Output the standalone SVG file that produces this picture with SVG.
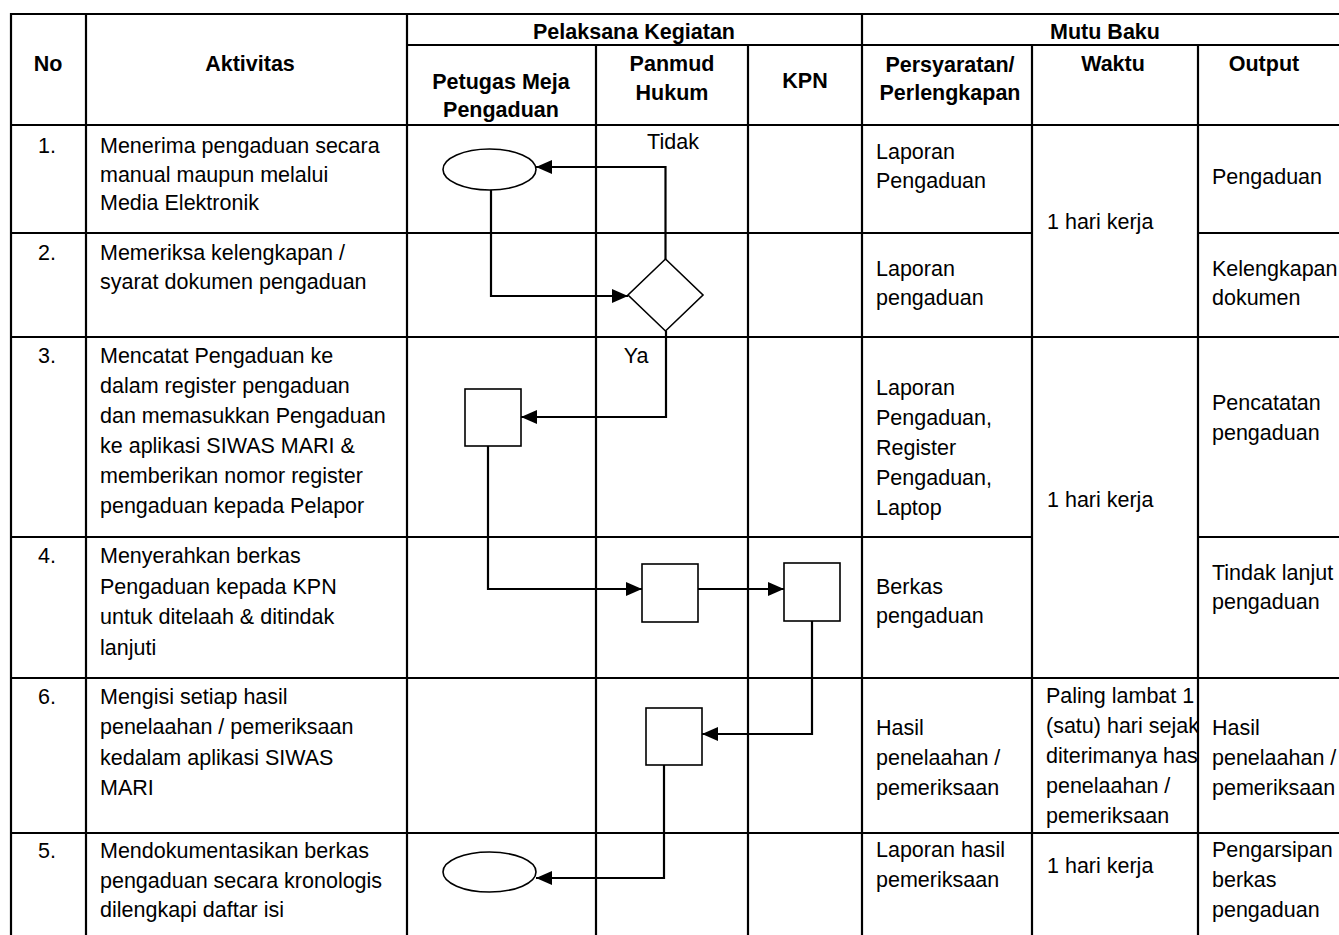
<svg xmlns="http://www.w3.org/2000/svg" width="1339" height="935" viewBox="0 0 1339 935">
<style>
text{font-family:"Liberation Sans",Arial,sans-serif;font-size:21.5px;fill:#000}
.b{font-weight:bold}
.m{text-anchor:middle}
.grid line{stroke:#000;stroke-width:2.2}
.shape{fill:#fff;stroke:#000;stroke-width:1.6}
.conn path{fill:none;stroke:#000;stroke-width:2.2}
</style>
<defs>
<marker id="arr" markerUnits="userSpaceOnUse" markerWidth="17" markerHeight="15" refX="16" refY="7" orient="auto">
<path d="M0,0 L16,7 L0,14 z" fill="#000"/>
</marker>
<clipPath id="cw"><rect x="1033" y="679" width="164" height="153"/></clipPath>
</defs>
<rect width="1339" height="935" fill="#fff"/>
<g id="grid" class="grid">
<line x1="11" y1="14" x2="1348" y2="14"/>
<line x1="11" y1="13" x2="11" y2="935"/>
<line x1="86" y1="14" x2="86" y2="935"/>
<line x1="407" y1="14" x2="407" y2="935"/>
<line x1="862" y1="14" x2="862" y2="935"/>
<line x1="596" y1="45" x2="596" y2="935"/>
<line x1="748" y1="45" x2="748" y2="935"/>
<line x1="1032" y1="45" x2="1032" y2="935"/>
<line x1="1198" y1="45" x2="1198" y2="935"/>
<line x1="407" y1="45" x2="1348" y2="45"/>
<line x1="11" y1="125" x2="1348" y2="125"/>
<line x1="11" y1="233" x2="1032" y2="233"/>
<line x1="1198" y1="233" x2="1348" y2="233"/>
<line x1="11" y1="337" x2="1348" y2="337"/>
<line x1="11" y1="537" x2="1032" y2="537"/>
<line x1="1198" y1="537" x2="1348" y2="537"/>
<line x1="11" y1="678" x2="1348" y2="678"/>
<line x1="11" y1="833" x2="1348" y2="833"/>
</g>
<g id="header">
<text class="b m" x="48" y="71">No</text>
<text class="b m" x="250" y="71">Aktivitas</text>
<text class="b m" x="634" y="39">Pelaksana Kegiatan</text>
<text class="b m" x="1105" y="39">Mutu Baku</text>
<text class="b m" x="501" y="89">Petugas Meja</text>
<text class="b m" x="501" y="117">Pengaduan</text>
<text class="b m" x="672" y="71">Panmud</text>
<text class="b m" x="672" y="100">Hukum</text>
<text class="b m" x="805" y="88">KPN</text>
<text class="b m" x="950" y="72">Persyaratan/</text>
<text class="b m" x="950" y="100">Perlengkapan</text>
<text class="b m" x="1113" y="71">Waktu</text>
<text class="b m" x="1264" y="71">Output</text>
</g>
<g id="row1">
<text class="m" x="47" y="153">1.</text>
<text x="100" y="153">Menerima pengaduan secara</text>
<text x="100" y="182">manual maupun melalui</text>
<text x="100" y="210">Media Elektronik</text>
<text x="876" y="159">Laporan</text>
<text x="876" y="188">Pengaduan</text>
<text x="1047" y="229">1 hari kerja</text>
<text x="1212" y="184">Pengaduan</text>
</g>
<g id="row2">
<text class="m" x="47" y="260">2.</text>
<text x="100" y="260">Memeriksa kelengkapan /</text>
<text x="100" y="289">syarat dokumen pengaduan</text>
<text x="876" y="276">Laporan</text>
<text x="876" y="305">pengaduan</text>
<text x="1212" y="276">Kelengkapan</text>
<text x="1212" y="305">dokumen</text>
</g>
<g id="row3">
<text class="m" x="47" y="363">3.</text>
<text x="100" y="363">Mencatat Pengaduan ke</text>
<text x="100" y="393">dalam register pengaduan</text>
<text x="100" y="423">dan memasukkan Pengaduan</text>
<text x="100" y="453">ke aplikasi SIWAS MARI &amp;</text>
<text x="100" y="483">memberikan nomor register</text>
<text x="100" y="513">pengaduan kepada Pelapor</text>
<text x="876" y="395">Laporan</text>
<text x="876" y="425">Pengaduan,</text>
<text x="876" y="455">Register</text>
<text x="876" y="485">Pengaduan,</text>
<text x="876" y="515">Laptop</text>
<text x="1047" y="507">1 hari kerja</text>
<text x="1212" y="410">Pencatatan</text>
<text x="1212" y="440">pengaduan</text>
</g>
<g id="row4">
<text class="m" x="47" y="563">4.</text>
<text x="100" y="563">Menyerahkan berkas</text>
<text x="100" y="594">Pengaduan kepada KPN</text>
<text x="100" y="624">untuk ditelaah &amp; ditindak</text>
<text x="100" y="655">lanjuti</text>
<text x="876" y="594">Berkas</text>
<text x="876" y="623">pengaduan</text>
<text x="1212" y="580">Tindak lanjut</text>
<text x="1212" y="609">pengaduan</text>
</g>
<g id="row6">
<text class="m" x="47" y="704">6.</text>
<text x="100" y="704">Mengisi setiap hasil</text>
<text x="100" y="734">penelaahan / pemeriksaan</text>
<text x="100" y="765">kedalam aplikasi SIWAS</text>
<text x="100" y="795">MARI</text>
<text x="876" y="735">Hasil</text>
<text x="876" y="765">penelaahan /</text>
<text x="876" y="795">pemeriksaan</text>
<g clip-path="url(#cw)">
<text x="1046" y="703">Paling lambat 1</text>
<text x="1046" y="733">(satu) hari sejak</text>
<text x="1046" y="763">diterimanya hasil</text>
<text x="1046" y="793">penelaahan /</text>
<text x="1046" y="823">pemeriksaan</text>
</g>
<text x="1212" y="735">Hasil</text>
<text x="1212" y="765">penelaahan /</text>
<text x="1212" y="795">pemeriksaan</text>
</g>
<g id="row5">
<text class="m" x="47" y="858">5.</text>
<text x="100" y="858">Mendokumentasikan berkas</text>
<text x="100" y="888">pengaduan secara kronologis</text>
<text x="100" y="917">dilengkapi daftar isi</text>
<text x="876" y="857">Laporan hasil</text>
<text x="876" y="887">pemeriksaan</text>
<text x="1047" y="873">1 hari kerja</text>
<text x="1212" y="857">Pengarsipan</text>
<text x="1212" y="887">berkas</text>
<text x="1212" y="917">pengaduan</text>
</g>
<g id="connectors" class="conn">
<path d="M665.5,259 V167 H536" marker-end="url(#arr)"/>
<path d="M491,190 V296 H628" marker-end="url(#arr)"/>
<path d="M666,331 V417 H521" marker-end="url(#arr)"/>
<path d="M488,446 V589 H642" marker-end="url(#arr)"/>
<path d="M698,589 H784" marker-end="url(#arr)"/>
<path d="M812,621 V734 H702" marker-end="url(#arr)"/>
<path d="M664,765 V878 H536" marker-end="url(#arr)"/>
</g>
<g id="label-tidak"><text class="m" x="673" y="149">Tidak</text></g>
<g id="label-ya"><text class="m" x="636" y="363">Ya</text></g>
<g id="start1"><ellipse class="shape" cx="489.5" cy="169.5" rx="46.5" ry="20.5"/></g>
<g id="decision"><polygon class="shape" points="665.5,259 703,295 665.5,331 628,295"/></g>
<g id="proc-catat"><rect class="shape" x="465" y="389" width="56" height="57"/></g>
<g id="proc-panmud"><rect class="shape" x="642" y="564" width="56" height="58"/></g>
<g id="proc-kpn"><rect class="shape" x="784" y="563" width="56" height="58"/></g>
<g id="proc-isi"><rect class="shape" x="646" y="708" width="56" height="57"/></g>
<g id="end"><ellipse class="shape" cx="489.5" cy="872" rx="46.5" ry="20"/></g>
</svg>
